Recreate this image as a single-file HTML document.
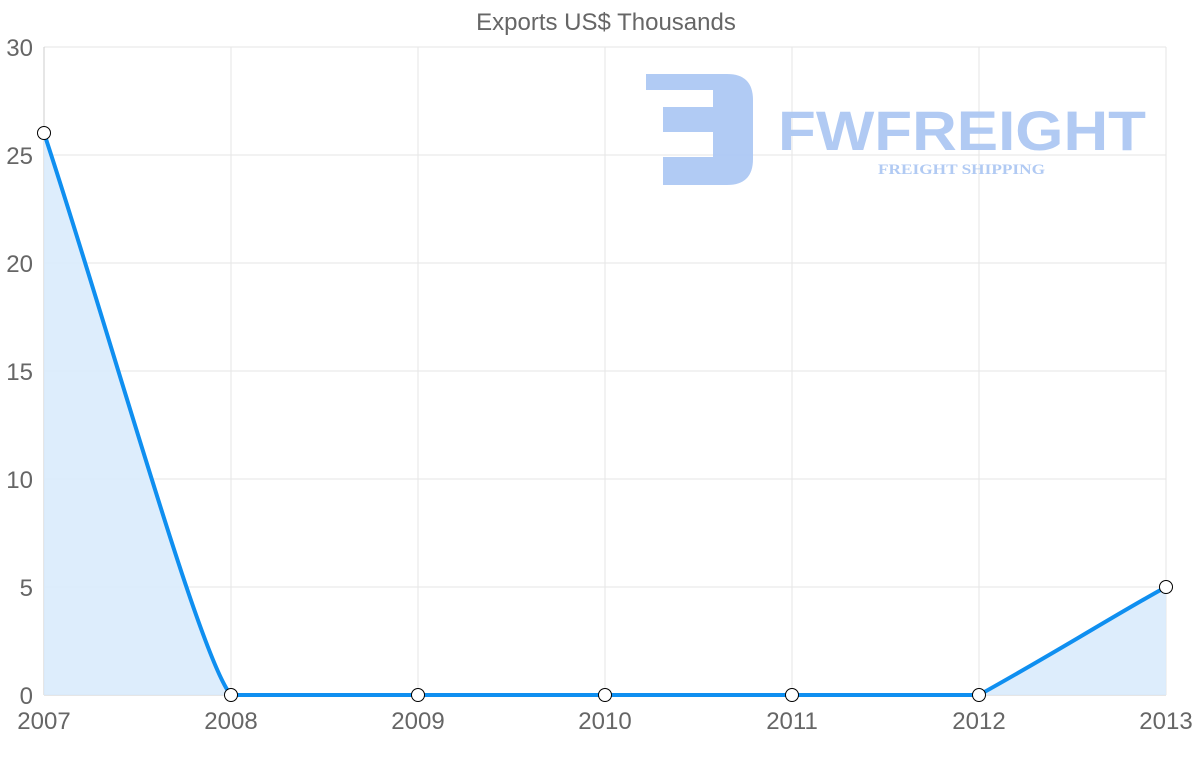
<!DOCTYPE html>
<html><head><style>body{margin:0;background:#fff}svg{display:block}</style></head><body>
<svg width="1200" height="763" xmlns="http://www.w3.org/2000/svg" font-family="Liberation Sans, sans-serif">
<g stroke="#e5e5e5" stroke-width="1">
<line x1="44" y1="47" x2="1166" y2="47"/><line x1="44" y1="155" x2="1166" y2="155"/><line x1="44" y1="263" x2="1166" y2="263"/><line x1="44" y1="371" x2="1166" y2="371"/><line x1="44" y1="479" x2="1166" y2="479"/><line x1="44" y1="587" x2="1166" y2="587"/>
<line x1="231" y1="47" x2="231" y2="695"/><line x1="418" y1="47" x2="418" y2="695"/><line x1="605" y1="47" x2="605" y2="695"/><line x1="792" y1="47" x2="792" y2="695"/><line x1="979" y1="47" x2="979" y2="695"/><line x1="1166" y1="47" x2="1166" y2="695"/>
</g>
<line x1="44" y1="47" x2="44" y2="695" stroke="#ccc"/>
<line x1="44" y1="695" x2="1166" y2="695" stroke="#ccc"/>
<g fill="#adc8f3" opacity="0.95">
<path d="M646 74 H727 Q753 74 753 100 V159 Q753 185 727 185 H663 V157 H713 V132 H663 V107 H713 V90 H646 Z"/>
<text x="778" y="150" font-size="56" font-weight="bold" textLength="368" lengthAdjust="spacingAndGlyphs">FWFREIGHT</text>
<text x="878" y="174" font-size="15" font-weight="bold" font-family="Liberation Serif, serif" textLength="167" lengthAdjust="spacingAndGlyphs">FREIGHT SHIPPING</text>
</g>
<path d="M44 133 C106 320 200 660 231 695 L979 695 C1060 650 1120 612 1166 587 L1166 695 L44 695 Z" fill="#d9ebfc" opacity="0.9"/>
<path d="M44 133 C106 320 200 660 231 695 L979 695 C1060 650 1120 612 1166 587" fill="none" stroke="#0f8ff0" stroke-width="4"/>
<g fill="#fff" stroke="#000" stroke-width="1">
<circle cx="44" cy="133" r="6.5"/><circle cx="231" cy="695" r="6.5"/><circle cx="418" cy="695" r="6.5"/><circle cx="605" cy="695" r="6.5"/><circle cx="792" cy="695" r="6.5"/><circle cx="979" cy="695" r="6.5"/><circle cx="1166" cy="587" r="6.5"/>
</g>
<g fill="#666" font-size="24" text-anchor="end">
<text x="33" y="56">30</text><text x="33" y="164">25</text><text x="33" y="272">20</text><text x="33" y="380">15</text><text x="33" y="488">10</text><text x="33" y="596">5</text><text x="33" y="704">0</text>
</g>
<g fill="#666" font-size="24" text-anchor="middle">
<text x="44" y="729">2007</text><text x="231" y="729">2008</text><text x="418" y="729">2009</text><text x="605" y="729">2010</text><text x="792" y="729">2011</text><text x="979" y="729">2012</text><text x="1166" y="729">2013</text>
</g>
<text x="606" y="30" font-size="24" fill="#666" text-anchor="middle">Exports US$ Thousands</text>
</svg>
</body></html>
